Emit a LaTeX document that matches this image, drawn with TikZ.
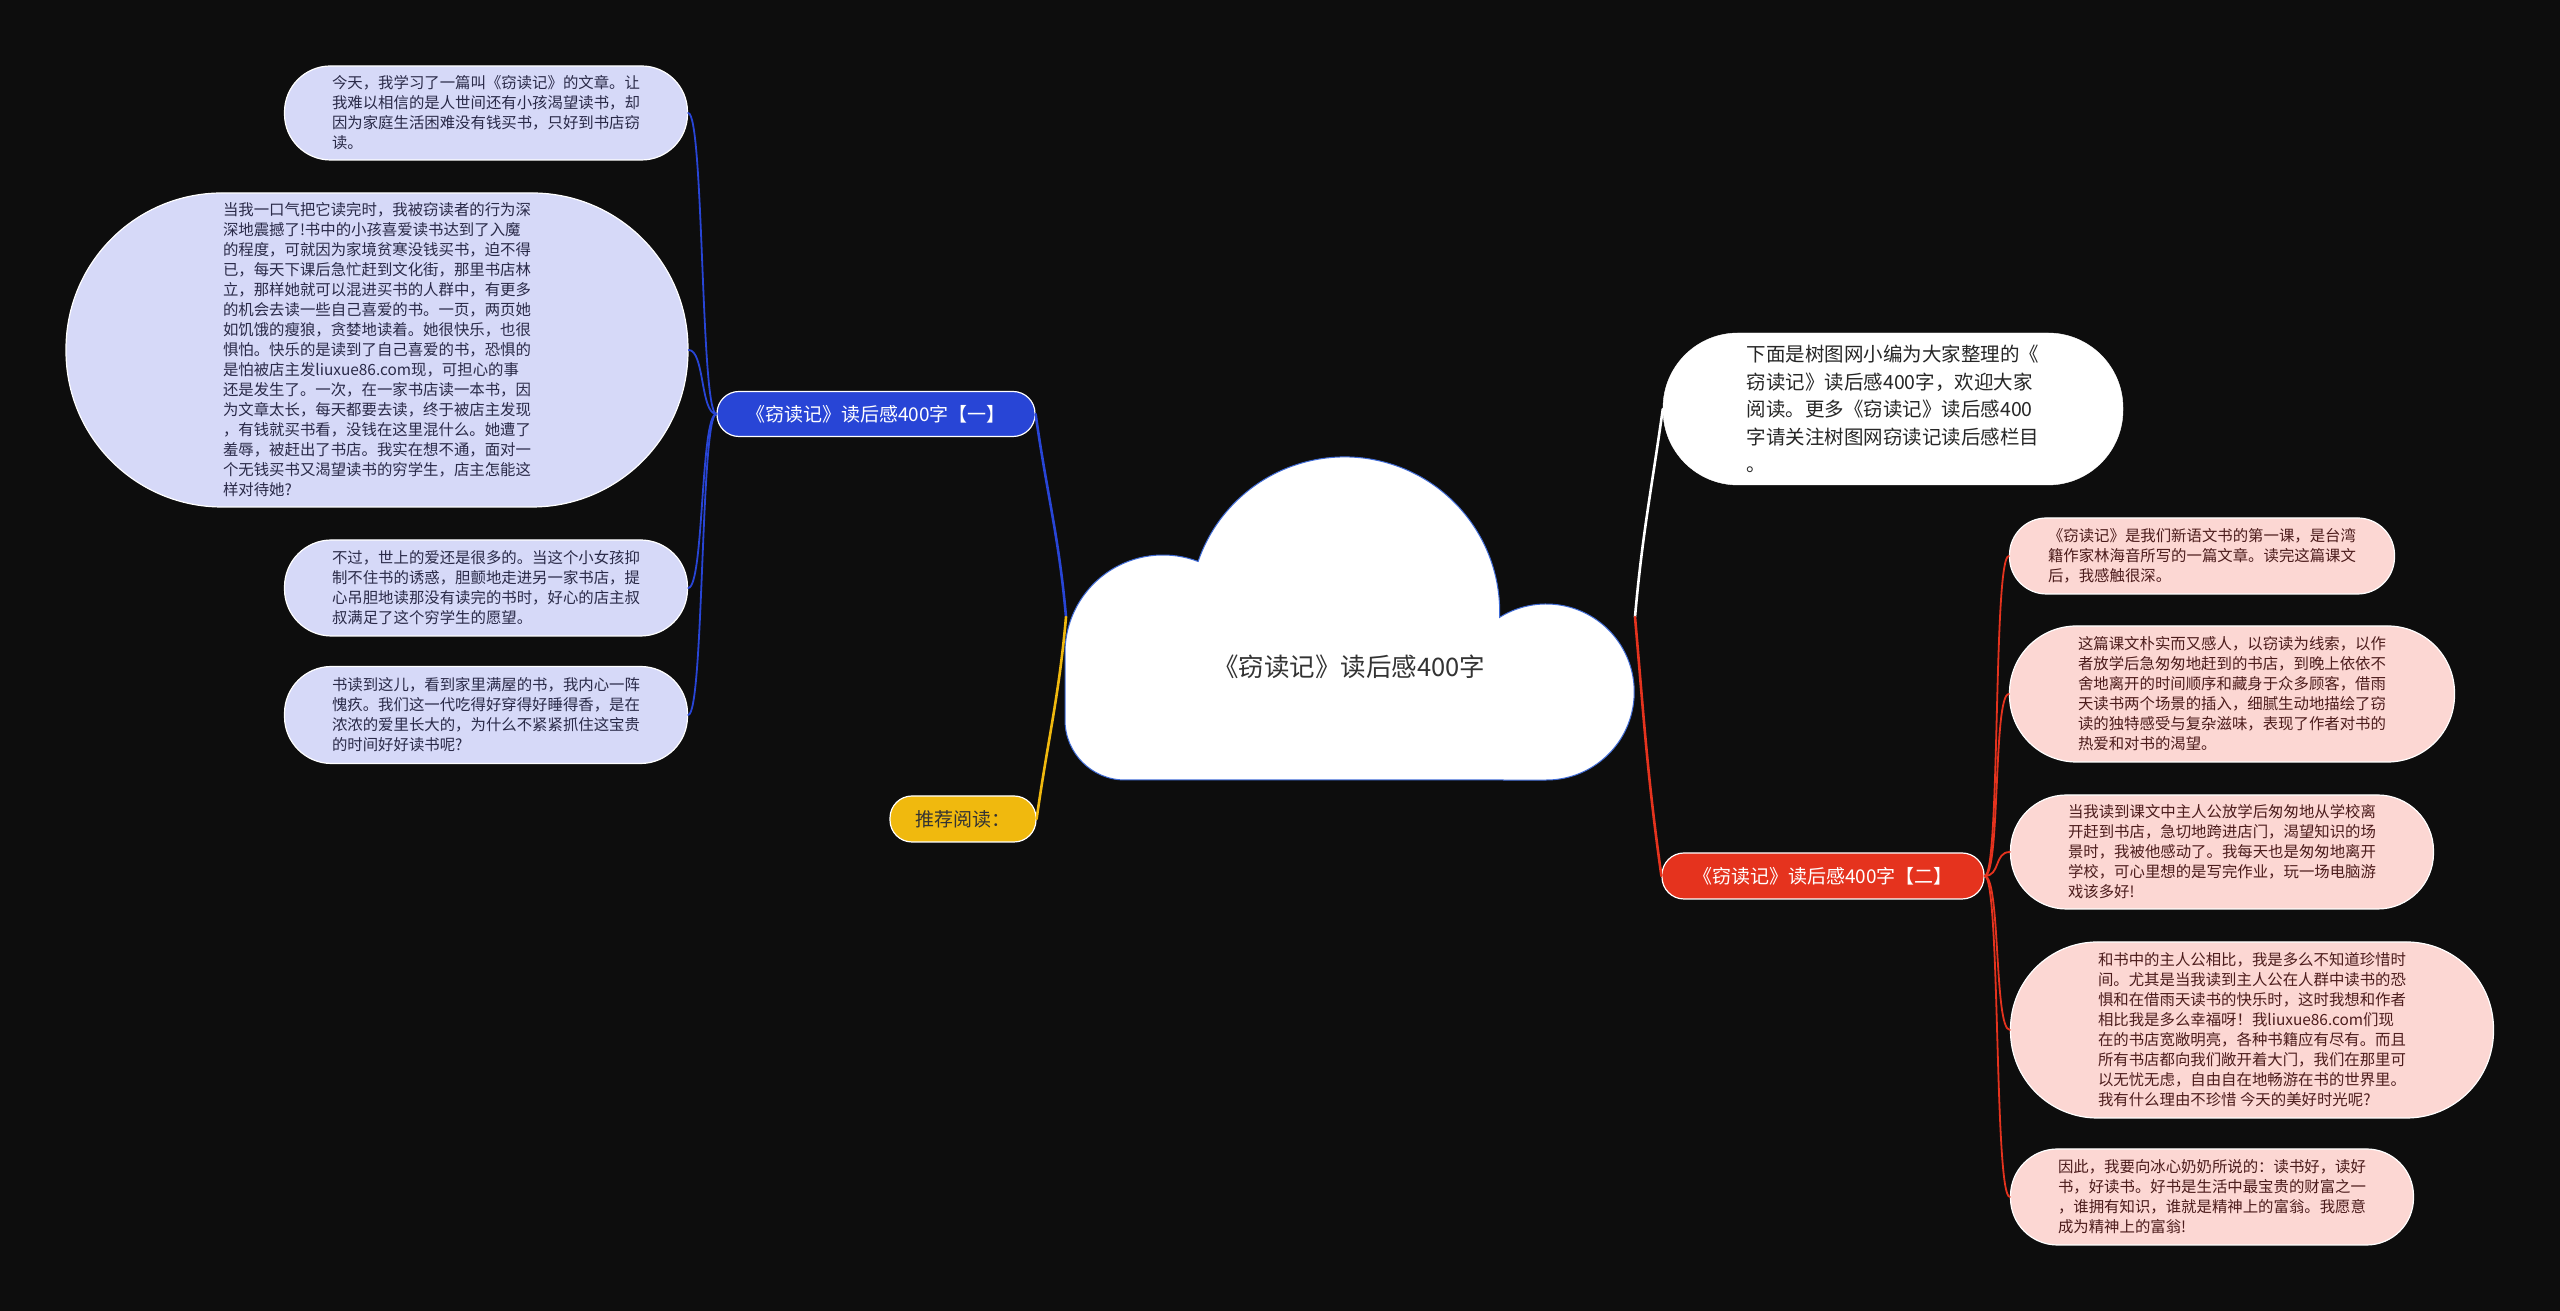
\documentclass[tikz,border=0pt]{standalone}
\usepackage{fontspec}
\setmainfont{Noto Sans CJK SC}
\definecolor{bgdark}{HTML}{0D0D0D}
\definecolor{branchblue}{HTML}{2845D6}
\definecolor{leafblue}{HTML}{D6D9F8}
\definecolor{inkblue}{HTML}{2A2A48}
\definecolor{branchred}{HTML}{E5331E}
\definecolor{leafred}{HTML}{FCD7D3}
\definecolor{inkred}{HTML}{4C1C1C}
\definecolor{branchgold}{HTML}{F0B90E}
\definecolor{cloudedge}{HTML}{3F6BD6}
\begin{document}
\begin{tikzpicture}[
    x=1pt, y=1pt,
    branch/.style={draw=white, line width=1.2pt, text=white, inner sep=0pt, minimum height=45pt, rounded corners=22pt, font=\fontsize{19}{23}\selectfont},
    leaf/.style={draw=white, line width=1.2pt, inner sep=0pt, align=left, font=\fontsize{15.4}{20}\selectfont},
    leafl/.style={leaf, fill=leafblue, text=inkblue},
    leafr/.style={leaf, fill=leafred, text=inkred},
    link/.style={line width=2.6pt, line cap=round},
    twig/.style={line width=1.8pt, line cap=round}
  ]
  \fill[bgdark] (0,0) rectangle (2560,1311);
  \useasboundingbox (0,0) rectangle (2560,1311);

  % Central cloud
  \draw[fill=white, draw=cloudedge, line width=1pt] (1065,591) -- (1065,658)
    arc[start angle=180, end angle=69, radius=98]
    arc[start angle=161, end angle=-2, radius=155]
    arc[start angle=122, end angle=-90, radius=88]
    -- (1125,531) arc[start angle=270, end angle=180, radius=60] -- cycle;
  \node[font=\fontsize{25.5}{30}\selectfont, text=black!80] (title) at (1349,644) {《窃读记》读后感400字};
  \coordinate (cloudl) at (1066,694);
  \coordinate (cloudr) at (1635,694);

  % Branch one (left)
  \node[branch, fill=branchblue, minimum width=318pt] (one) at (876,897) {《窃读记》读后感400字【一】};
  \node[leafl, minimum width=403pt, minimum height=94pt, rounded corners=46pt] (l1) at (486,1198) {今天，我学习了一篇叫《窃读记》的文章。让\\
    我难以相信的是人世间还有小孩渴望读书，却\\
    因为家庭生活困难没有钱买书，只好到书店窃\\
    读。};
  \node[leafl, minimum width=622pt, minimum height=314pt, rounded corners=156pt] (l2) at (377,961) {当我一口气把它读完时，我被窃读者的行为深\\
    深地震撼了!书中的小孩喜爱读书达到了入魔\\
    的程度，可就因为家境贫寒没钱买书，迫不得\\
    已，每天下课后急忙赶到文化街，那里书店林\\
    立，那样她就可以混进买书的人群中，有更多\\
    的机会去读一些自己喜爱的书。一页，两页她\\
    如饥饿的瘦狼，贪婪地读着。她很快乐，也很\\
    惧怕。快乐的是读到了自己喜爱的书，恐惧的\\
    是怕被店主发liuxue86.com现，可担心的事\\
    还是发生了。一次，在一家书店读一本书，因\\
    为文章太长，每天都要去读，终于被店主发现\\
    ，有钱就买书看，没钱在这里混什么。她遭了\\
    羞辱，被赶出了书店。我实在想不通，面对一\\
    个无钱买书又渴望读书的穷学生，店主怎能这\\
    样对待她?};
  \node[leafl, minimum width=403pt, minimum height=96pt, rounded corners=47pt] (l3) at (486,723) {不过，世上的爱还是很多的。当这个小女孩抑\\
    制不住书的诱惑，胆颤地走进另一家书店，提\\
    心吊胆地读那没有读完的书时，好心的店主叔\\
    叔满足了这个穷学生的愿望。};
  \node[leafl, minimum width=403pt, minimum height=97pt, rounded corners=47pt] (l4) at (486,596) {书读到这儿，看到家里满屋的书，我内心一阵\\
    愧疚。我们这一代吃得好穿得好睡得香，是在\\
    浓浓的爱里长大的，为什么不紧紧抓住这宝贵\\
    的时间好好读书呢?};

  % Recommended reading
  \node[branch, fill=branchgold, text=black!80, minimum width=146pt, minimum height=46pt] (read) at (963,492) {推荐阅读：};

  % Intro (right, top)
  \node[draw=white, fill=white, text=black!85, inner sep=0pt, align=left, minimum width=460pt, minimum height=152pt, rounded corners=75pt, font=\fontsize{19.5}{27.5}\selectfont] (intro) at (1893,902) {下面是树图网小编为大家整理的《\\
    窃读记》读后感400字，欢迎大家\\
    阅读。更多《窃读记》读后感400\\
    字请关注树图网窃读记读后感栏目\\
    。};

  % Branch two (right)
  \node[branch, fill=branchred, minimum width=322pt, minimum height=46pt] (two) at (1823,435) {《窃读记》读后感400字【二】};
  \node[leafr, minimum width=385pt, minimum height=76pt, rounded corners=37pt] (r1) at (2202,755) {《窃读记》是我们新语文书的第一课，是台湾\\
    籍作家林海音所写的一篇文章。读完这篇课文\\
    后，我感触很深。};
  \node[leafr, minimum width=445pt, minimum height=136pt, rounded corners=67pt] (r2) at (2232,617) {这篇课文朴实而又感人，以窃读为线索，以作\\
    者放学后急匆匆地赶到的书店，到晚上依依不\\
    舍地离开的时间顺序和藏身于众多顾客，借雨\\
    天读书两个场景的插入，细腻生动地描绘了窃\\
    读的独特感受与复杂滋味，表现了作者对书的\\
    热爱和对书的渴望。};
  \node[leafr, minimum width=423pt, minimum height=114pt, rounded corners=56pt] (r3) at (2222,459) {当我读到课文中主人公放学后匆匆地从学校离\\
    开赶到书店，急切地跨进店门，渴望知识的场\\
    景时，我被他感动了。我每天也是匆匆地离开\\
    学校，可心里想的是写完作业，玩一场电脑游\\
    戏该多好!};
  \node[leafr, minimum width=483pt, minimum height=176pt, rounded corners=87pt] (r4) at (2252,281) {和书中的主人公相比，我是多么不知道珍惜时\\
    间。尤其是当我读到主人公在人群中读书的恐\\
    惧和在借雨天读书的快乐时，这时我想和作者\\
    相比我是多么幸福呀！我liuxue86.com们现\\
    在的书店宽敞明亮，各种书籍应有尽有。而且\\
    所有书店都向我们敞开着大门，我们在那里可\\
    以无忧无虑，自由自在地畅游在书的世界里。\\
    我有什么理由不珍惜\ 今天的美好时光呢?};
  \node[leafr, minimum width=403pt, minimum height=96pt, rounded corners=47pt] (r5) at (2212,114) {因此，我要向冰心奶奶所说的：读书好，读好\\
    书，好读书。好书是生活中最宝贵的财富之一\\
    ，谁拥有知识，谁就是精神上的富翁。我愿意\\
    成为精神上的富翁!};

  % Links
  \draw[link, branchblue] (cloudl) to[out=95, in=-82] (one.east);
  \draw[link, branchgold] (cloudl) to[out=-95, in=82] (read.east);
  \draw[link, white] (cloudr) to[out=85, in=-98] (intro.west);
  \draw[link, branchred] (cloudr) to[out=-85, in=98] (two.west);
  \foreach \n in {l1,l2,l3,l4}
    \draw[twig, branchblue] (one.west) .. controls +(-16,0) and +(16,0) .. (\n.east);
  \foreach \n in {r1,r2,r3,r4,r5}
    \draw[twig, branchred] (two.east) .. controls +(16,0) and +(-16,0) .. (\n.west);

\end{tikzpicture}
\end{document}
